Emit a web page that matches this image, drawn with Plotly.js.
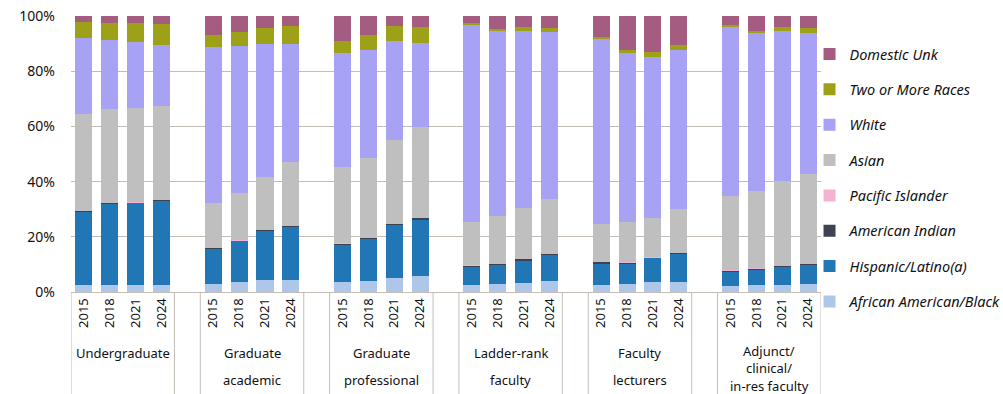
<!DOCTYPE html>
<html>
<head>
<meta charset="utf-8">
<script src="https://cdn.plot.ly/plotly-3.0.1.min.js"></script>
<style>html,body{margin:0;padding:0;background:#fff;}#chart{width:1003px;height:394px;}</style>
</head>
<body>
<div id="chart"></div>
<script>
const groups = ['Undergraduate', 'Graduate academic', 'Graduate professional', 'Ladder-rank faculty', 'Faculty lecturers', 'Adjunct/clinical/in-res faculty'];
const groupLabelLines = [['Undergraduate'], ['Graduate', 'academic'], ['Graduate', 'professional'], ['Ladder-rank', 'faculty'], ['Faculty', 'lecturers'], ['Adjunct/', 'clinical/', 'in-res faculty']];
const years = ['2015', '2018', '2021', '2024'];

const seriesNames = ['African American/Black', 'Hispanic/Latino(a)', 'American Indian', 'Pacific Islander', 'Asian', 'White', 'Two or More Races', 'Domestic Unk'];
const black = [2.7,2.7,2.7,2.7, 3.0,3.7,4.5,4.5, 3.7,4.1,5.2,5.9, 2.7,3.0,3.4,4.1, 2.7,3.0,3.7,3.7, 2.3,2.7,2.7,3.0];
const hispanic = [26.2,29.3,29.4,30.4, 12.5,14.7,17.5,18.9, 13.4,15.2,19.2,20.3, 6.5,6.9,8.0,9.4, 7.6,7.3,8.6,10.2, 5.1,5.4,6.5,6.9];
const amIndian = [0.3,0.1,0.3,0.3, 0.3,0.2,0.4,0.5, 0.4,0.1,0.3,0.6, 0.4,0.3,0.6,0.3, 0.6,0.3,0.2,0.1, 0.3,0.4,0.3,0.2];
const pacIslander = [0.3,0.2,0.1,0.1, 0.1,0.3,0.1,0.1, 0.1,0.3,0.1,0.1, 0.1,0.1,0.1,0.1, 0.1,0.1,0.2,0.3, 0.1,0.1,0.1,0.2];
const asian = [35.1,34.1,34.3,34.0, 16.5,17.1,19.3,23.2, 27.8,29.0,30.4,33.0, 15.8,17.4,18.5,19.9, 13.8,14.8,14.2,15.9, 27.1,28.1,30.7,32.6];
const white = [27.5,25.0,23.9,22.1, 56.5,53.3,48.2,42.8, 41.3,39.1,35.9,30.4, 71.4,67.0,64.1,60.5, 67.0,61.2,58.4,57.6, 61.2,57.3,54.4,51.1];
const twoOrMore = [5.8,6.2,6.9,7.6, 4.3,5.0,5.8,6.5, 4.2,5.4,5.4,5.8, 0.4,0.7,1.4,1.5, 0.7,1.1,1.8,1.8, 0.5,0.7,1.4,1.8];
const domesticUnk = [2.1,2.4,2.4,2.8, 6.8,5.7,4.2,3.5, 9.1,6.8,3.5,3.9, 2.7,4.6,3.9,4.2, 7.5,12.2,12.9,10.4, 3.4,5.3,3.9,4.2];
const seriesValues = [black, hispanic, amIndian, pacIslander, asian, white, twoOrMore, domesticUnk];
const colors = ['#aec7e8', '#2176b5', '#3e4150', '#f4b3d0', '#bfbfbf', '#a8a2f4', '#9da117', '#a45d80'];

// categories: each group's years, with an empty spacer category between groups
const xKeys = [];
const categoryArray = [];
const tickVals = [];
const tickText = [];
groups.forEach((g, gi) => {
  years.forEach(y => {
    const k = g + ' ' + y;
    xKeys.push(k);
    categoryArray.push(k);
    tickVals.push(k);
    tickText.push(y);
  });
  if (gi < groups.length - 1) categoryArray.push('__gap' + gi);
});

const traces = seriesNames.map((name, i) => ({
  type: 'bar',
  name: name,
  x: xKeys,
  y: seriesValues[i],
  marker: {color: colors[i], line: {width: 0}},
  legendgroup: 'g' + i,
  legendrank: 100 - i,
  hoverinfo: 'name+y'
}));

const gridColor = '#c3bdb6';
const plotTop = 16, plotBottom = 292, plotH = plotBottom - plotTop;
const shapes = [];
const annotations = [];
const lineBottom = -(394 - plotBottom) / plotH;
groups.forEach((g, gi) => {
  const start = gi * 5, end = gi * 5 + 3;
  [start - 0.5, end + 0.5].forEach(xv => {
    shapes.push({type: 'line', xref: 'x', yref: 'paper', x0: xv, x1: xv, y0: 0, y1: lineBottom,
      line: {color: gridColor, width: 1}});
  });
  const lines = groupLabelLines[gi];
  const ys = lines.length === 3 ? [350.5, 368, 385.5] : [352.5, 380];
  lines.forEach((t, li) => {
    annotations.push({xref: 'x', yref: 'paper', x: start + 1.5, y: (plotBottom - ys[li]) / plotH,
      text: t, showarrow: false, xanchor: 'center', yanchor: 'middle', borderpad: 0,
      font: {family: 'Noto Sans, Open Sans, sans-serif', size: 13, color: '#111'}});
  });
});

const layout = {
  width: 1003, height: 394,
  margin: {l: 71, r: 182, t: plotTop, b: 394 - plotBottom, autoexpand: false},
  paper_bgcolor: '#fff', plot_bgcolor: '#fff',
  barmode: 'stack',
  bargap: 0.34,
  showlegend: true,
  xaxis: {
    type: 'category', categoryorder: 'array', categoryarray: categoryArray,
    range: [-0.5, categoryArray.length - 0.5],
    tickmode: 'array', tickvals: tickVals, ticktext: tickText,
    tickangle: -90, ticks: '', showgrid: false, zeroline: false,
    showline: true, linecolor: gridColor, linewidth: 1,
    tickfont: {family: 'Noto Sans, Open Sans, sans-serif', size: 13, color: '#111'},
    fixedrange: true
  },
  yaxis: {
    range: [0, 100], tickmode: 'array', tickvals: [0, 20, 40, 60, 80, 100],
    ticktext: ['0%', '20%', '40%', '60%', '80%', '100%'],
    showgrid: true, gridcolor: gridColor, gridwidth: 1, zeroline: false, showline: false,
    ticks: '', ticklabelstandoff: 15,
    tickfont: {family: 'Noto Sans, Open Sans, sans-serif', size: 14, color: '#111'},
    fixedrange: true
  },
  legend: {
    x: 0.9847, xanchor: 'left', y: 0.92, yanchor: 'top',
    traceorder: 'grouped', tracegroupgap: 13.5,
    font: {family: 'Noto Sans, Open Sans, sans-serif', size: 14.5, color: '#111', style: 'italic'},
    bgcolor: 'rgba(0,0,0,0)', borderwidth: 0
  },
  shapes: shapes,
  annotations: annotations
};

Plotly.newPlot('chart', traces, layout, {displayModeBar: false, staticPlot: true});
</script>
</body>
</html>
